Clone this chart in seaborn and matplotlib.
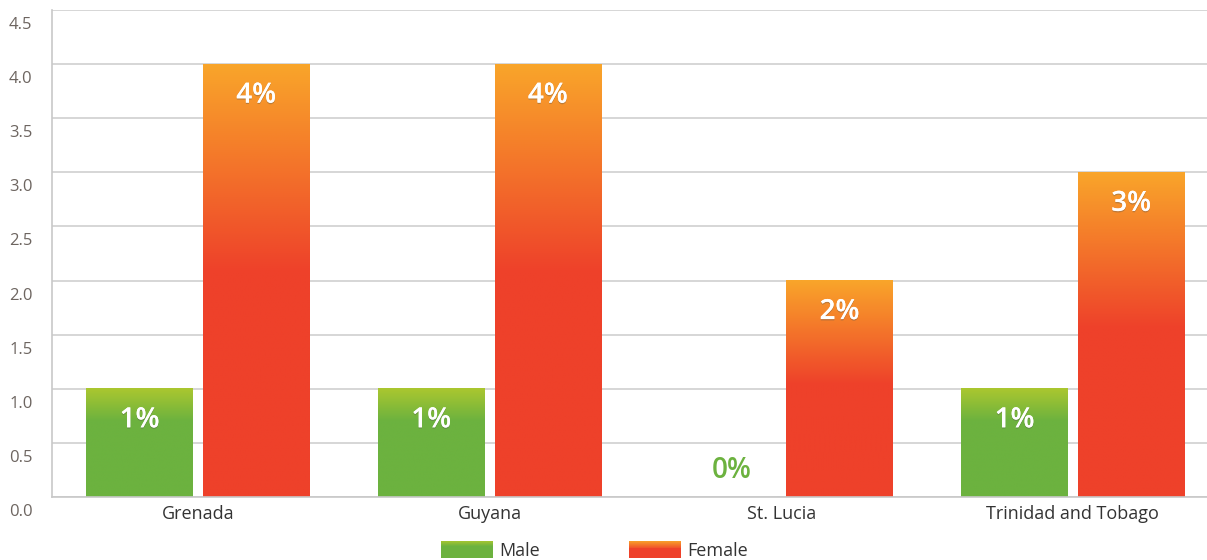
import numpy as np
import pandas as pd
import matplotlib
matplotlib.use('Agg')
import matplotlib.pyplot as plt
import matplotlib.patheffects as pe
from matplotlib.colors import to_rgb
from matplotlib.patches import Rectangle
from matplotlib.legend_handler import HandlerBase
from matplotlib.transforms import ScaledTranslation
import seaborn as sns

# data
countries = ['Grenada', 'Guyana', 'St. Lucia', 'Trinidad and Tobago']
male = [1, 1, 0, 1]
female = [4, 4, 2, 3]
yticks = [0.0, 0.5, 1.0, 1.5, 2.0, 2.5, 3.0, 3.5, 4.0, 4.5]

df = pd.DataFrame({
    'country': countries * 2,
    'value': male + female,
    'sex': ['Male'] * 4 + ['Female'] * 4,
})

# gradient stops (top colour, bottom colour, fraction of bar where it turns solid)
grad = {
    'Male': ('#abc72f', '#6cb23f', 0.30),
    'Female': ('#f9a52a', '#ee412a', 0.48),
}


def gradient_column(top, bottom, frac, n=200):
    t, b = np.array(to_rgb(top)), np.array(to_rgb(bottom))
    s = np.clip(np.linspace(0, 1, n) / frac, 0, 1)[:, None]
    return (t * (1 - s) + b * s)[:, None, :]


sns.set_theme(style='white')
plt.rcParams['font.family'] = ['Open Sans', 'DejaVu Sans']

fig = plt.figure(figsize=(12.07, 5.6), dpi=100)
ax = fig.add_axes([52 / 1207, 1 - 497 / 560, 1 - 52 / 1207, (497 - 10) / 560])

sns.barplot(data=df, x='country', y='value', hue='sex',
            palette={'Male': '#6cb23f', 'Female': '#ee412a'},
            width=0.8, gap=0.09, legend=False, ax=ax)

# replace flat bars by gradients
sexes = ['Male'] * 4 + ['Female'] * 4
for p, sex in zip(ax.patches, sexes):
    h = p.get_height()
    if h <= 0:
        continue
    top, bottom, frac = grad[sex]
    x0 = p.get_x()
    ax.imshow(gradient_column(top, bottom, frac), extent=[x0, x0 + p.get_width(), 0, h],
              aspect='auto', origin='upper', zorder=2, interpolation='bilinear')
    p.set_visible(False)

    ax.annotate(f'{h:.0f}%', (x0 + p.get_width() / 2, h), xytext=(0, -31),
                textcoords='offset pixels', ha='center', va='center',
                color='white', fontsize=20, fontweight='semibold', zorder=5,
                path_effects=[pe.withSimplePatchShadow(offset=(0, -1), shadow_rgbFace='#555555', alpha=0.35),
                              pe.Normal()])

# zero value label
for p, sex in zip(ax.patches, sexes):
    if p.get_height() == 0:
        ax.annotate('0%', (p.get_x() + p.get_width() / 2 + 0.03, 0), xytext=(0, 27),
                    textcoords='offset pixels', ha='center', va='center',
                    color='#6cb23f', fontsize=20, fontweight='semibold')

ax.set_xlim(-0.5, 3.46)
ax.set_ylim(0, 4.5)
ax.set_yticks(yticks)
ax.set_yticklabels([f'{v:.1f}' for v in yticks])
ax.yaxis.grid(True, color='#cfcfcf', lw=1.2)
ax.set_axisbelow(True)
ax.set_xlabel('')
ax.set_ylabel('')
for s in ['top', 'right']:
    ax.spines[s].set_visible(False)
for s in ['left', 'bottom']:
    ax.spines[s].set_color('#c8c8c8')
    ax.spines[s].set_linewidth(1.2)
ax.tick_params(axis='y', length=0, pad=14, labelsize=12, labelcolor='#6d6560')
ax.tick_params(axis='x', length=0, pad=6, labelsize=13, labelcolor='#333333')
shift = ScaledTranslation(0, -13 / 100, fig.dpi_scale_trans)
for lab in ax.get_yticklabels():
    lab.set_transform(lab.get_transform() + shift)


class GradKey:
    def __init__(self, sex):
        self.sex = sex


class GradHandler(HandlerBase):
    def create_artists(self, legend, orig_handle, xdescent, ydescent, width, height, fontsize, trans):
        top, bottom, frac = grad[orig_handle.sex]
        cols = gradient_column(top, bottom, frac, n=20)[:, 0, :]
        n = len(cols)
        arts = []
        for i, c in enumerate(cols):
            y = -ydescent + height * (1 - (i + 1) / n)
            arts.append(Rectangle((-xdescent, y), width, height / n + 0.3,
                                  facecolor=c, edgecolor='none', transform=trans))
        return arts


fig.legend(handles=[GradKey('Male'), GradKey('Female')], labels=['Male', 'Female'],
           handler_map={GradKey: GradHandler()},
           loc='upper left', bbox_to_anchor=(441 / 1207, 1 - 541 / 560), ncol=2,
           frameon=False, fontsize=13, handlelength=2.9, handleheight=1.1,
           handletextpad=0.35, columnspacing=4.9, borderpad=0, borderaxespad=0,
           labelcolor='#333333')

fig.savefig('out.png', dpi=100)
